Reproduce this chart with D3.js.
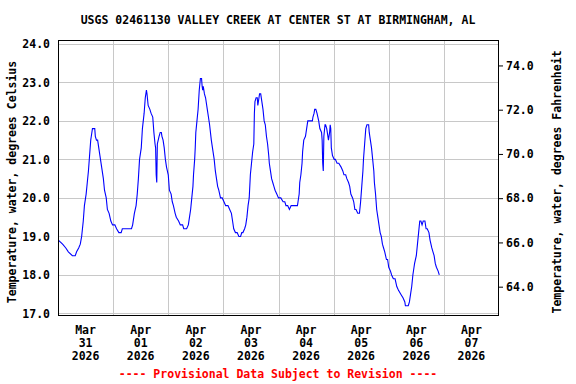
<!DOCTYPE html>
<html>
<head>
<meta charset="utf-8">
<script src="https://cdn.jsdelivr.net/npm/d3@7"></script>
<style>
  body { margin: 0; background: #fff; }
  text { font-family: "DejaVu Sans Mono", monospace; font-weight: bold; }
</style>
</head>
<body>
<div id="container"></div>
<script>

    // hours after 2026-03-31 00:00 and water temperature (deg C)
    const hours = [0.25, 2, 3.4, 4.5, 6.25, 7.5, 8.1, 9, 9.7, 10.3, 11, 11.5, 12.25, 12.75, 13.25, 13.75, 14.25, 14.5, 15, 15.5,
        16, 16.25, 16.75, 17.25, 17.75, 18.25, 19, 19.75, 20.25, 21, 21.5, 22.25, 23, 23.75, 24.75, 25.5, 26.5, 27.5, 28, 32,
        32.5, 33.25, 34, 34.5, 35, 35.5, 36.25, 36.75, 37.5, 38, 38.5, 38.75, 39.25, 40, 40.5, 41.25, 41.75, 42.25, 42.5, 42.75,
        43, 43.25, 44, 44.5, 45, 45.25, 45.75, 46.25, 46.75, 47.25, 48, 48.5, 49.25, 49.75, 50.25, 51, 51.5, 52.5, 53.25, 54.25,
        54.75, 56, 56.75, 57.25, 57.75, 58.25, 58.75, 59, 59.5, 59.75, 60, 60.5, 61, 61.5, 62, 62.5, 62.75, 63, 63.25, 63.75,
        64.25, 65, 65.5, 66, 66.75, 67.25, 68, 68.5, 69, 69.5, 70, 70.75, 71.5, 72.25, 73, 74, 74.75, 75.5, 76, 76.5,
        77.25, 78, 78.75, 79.5, 80, 80.5, 81.25, 81.75, 82.25, 82.75, 83.25, 83.75, 84.25, 84.75, 85.25, 85.5, 85.75, 86.25, 86.75, 87,
        87.5, 87.75, 88.25, 88.75, 89.25, 89.75, 90.25, 90.75, 91.25, 91.75, 92, 92.5, 93, 93.5, 94, 94.5, 95.25, 96, 97, 98,
        98.75, 99.25, 100, 100.75, 101.5, 102.25, 104.25, 104.5, 105, 105.25, 105.75, 106.25, 106.5, 107, 107.75, 108.25, 108.75, 109.75, 110.75, 111,
        111.5, 111.75, 112.25, 112.75, 113.5, 114, 114.75, 115, 115.25, 115.5, 115.75, 116.25, 116.5, 117, 117.25, 117.75, 118.25, 118.5, 118.75, 119,
        119.5, 120.25, 120.75, 121.5, 122.25, 123.25, 124, 124.5, 125.25, 125.75, 126.5, 127, 127.5, 128.25, 128.75, 129.25, 129.75, 130.5, 131.25, 131.75,
        132.25, 132.75, 133, 133.5, 134, 134.5, 134.75, 135.25, 135.5, 136, 136.5, 137, 137.5, 137.75, 138.25, 138.75, 139.25, 139.75, 140.25, 140.75,
        141.25, 141.75, 142.25, 143, 143.5, 144, 144.75, 145.25, 146, 146.75, 147.5, 148.25, 149.25, 150.25, 151, 151.25, 152.5, 153, 153.5, 154,
        154.5, 155, 155.25, 156, 156.5, 157, 157.5, 158, 158.5, 159, 159.75, 160.25, 160.75, 161.5, 162, 162.75, 163.25, 163.75, 164.25, 164.75,
        165.5, 166];
    const tempC = [18.9, 18.8, 18.7, 18.6, 18.5, 18.5, 18.6, 18.7, 18.8, 19.0, 19.4, 19.8, 20.1, 20.4, 20.7, 21.1, 21.5, 21.6, 21.8, 21.8,
        21.8, 21.6, 21.5, 21.5, 21.3, 21.1, 20.8, 20.5, 20.2, 20.0, 19.7, 19.6, 19.4, 19.3, 19.3, 19.2, 19.1, 19.1, 19.2, 19.2,
        19.3, 19.6, 19.8, 20.1, 20.5, 21.0, 21.3, 21.8, 22.2, 22.6, 22.8, 22.7, 22.4, 22.3, 22.2, 22.1, 21.7, 21.4, 21.3, 20.6,
        20.4, 21.4, 21.6, 21.7, 21.7, 21.6, 21.5, 21.3, 21.0, 20.8, 20.6, 20.2, 20.1, 19.9, 19.8, 19.6, 19.5, 19.4, 19.3, 19.3,
        19.2, 19.2, 19.3, 19.5, 19.7, 20.0, 20.3, 20.6, 21.0, 21.3, 21.7, 22.0, 22.3, 22.8, 23.1, 23.1, 22.9, 22.8, 22.9, 22.7,
        22.6, 22.3, 22.1, 21.9, 21.5, 21.3, 21.0, 20.7, 20.5, 20.3, 20.2, 20.0, 20.0, 19.9, 19.8, 19.8, 19.7, 19.6, 19.4, 19.2,
        19.1, 19.1, 19.0, 19.0, 19.1, 19.1, 19.2, 19.3, 19.5, 19.8, 20.0, 20.6, 20.9, 21.2, 21.4, 22.2, 22.5, 22.6, 22.6, 22.4,
        22.6, 22.7, 22.7, 22.5, 22.3, 22.0, 21.9, 21.6, 21.4, 21.1, 20.9, 20.7, 20.5, 20.4, 20.3, 20.2, 20.1, 20.0, 20.0, 19.9,
        19.9, 19.8, 19.8, 19.7, 19.8, 19.8, 19.8, 19.9, 20.1, 20.4, 20.6, 20.9, 21.2, 21.5, 21.6, 21.8, 22.0, 22.0, 22.0, 22.1,
        22.2, 22.3, 22.3, 22.2, 22.0, 21.8, 21.7, 21.5, 20.9, 20.7, 21.6, 21.9, 21.9, 21.8, 21.7, 21.5, 21.7, 21.9, 21.8, 21.3,
        21.1, 21.0, 21.0, 20.9, 20.9, 20.8, 20.7, 20.6, 20.6, 20.5, 20.4, 20.3, 20.1, 20.0, 19.9, 19.7, 19.7, 19.6, 19.6, 19.9,
        20.3, 20.7, 21.0, 21.4, 21.8, 21.9, 21.9, 21.9, 21.7, 21.5, 21.3, 21.0, 20.7, 20.4, 20.1, 19.7, 19.5, 19.3, 19.1, 19.0,
        18.8, 18.7, 18.6, 18.4, 18.4, 18.2, 18.1, 18.0, 17.9, 17.9, 17.7, 17.6, 17.5, 17.4, 17.3, 17.2, 17.2, 17.3, 17.5, 17.7,
        18.0, 18.2, 18.3, 18.5, 18.8, 19.1, 19.4, 19.4, 19.3, 19.4, 19.4, 19.2, 19.2, 19.1, 18.9, 18.7, 18.6, 18.5, 18.3, 18.2,
        18.1, 18.0];

    const celsiusTicks = [17, 18, 19, 20, 21, 22, 23, 24];
    const fahrenheitTicks = [64, 66, 68, 70, 72, 74];
    const tickMonths = ["Mar", "Apr", "Apr", "Apr", "Apr", "Apr", "Apr", "Apr"];
    const tickDays = ["31", "01", "02", "03", "04", "05", "06", "07"];
    const tickYears = ["2026", "2026", "2026", "2026", "2026", "2026", "2026", "2026"];

    const width = 576;
    const height = 384;
    const marginLeft = 58;
    const marginRight = 77;
    const marginTop = 40;
    const marginBottom = 69;

    const start = new Date(Date.UTC(2026, 2, 31));
    const end = new Date(Date.UTC(2026, 3, 8));
    const hourMs = 3600 * 1000;

    const x = d3.scaleUtc()
        .domain([start, end])
        .range([marginLeft, width - marginRight]);

    const y = d3.scaleLinear()
        .domain([16.96, 24.1])
        .range([height - marginBottom, marginTop]);

    // right axis, as drawn on the original plot
    const yF = d3.scaleLinear()
        .domain([62.72, 75.15])
        .range([height - marginBottom, marginTop]);

    const svg = d3.create("svg")
        .attr("width", width)
        .attr("height", height);

    // grid
    const midnights = d3.utcDay.range(d3.utcDay.offset(start, 1), end);
    svg.append("g")
        .selectAll("line")
        .data(midnights)
        .join("line")
        .attr("x1", d => Math.round(x(d)) + 0.5)
        .attr("x2", d => Math.round(x(d)) + 0.5)
        .attr("y1", marginTop)
        .attr("y2", height - marginBottom)
        .attr("stroke", "#c8c8c8");

    svg.append("g")
        .selectAll("line")
        .data(celsiusTicks)
        .join("line")
        .attr("x1", marginLeft)
        .attr("x2", width - marginRight)
        .attr("y1", d => Math.round(y(d)) + 0.5)
        .attr("y2", d => Math.round(y(d)) + 0.5)
        .attr("stroke", "#c8c8c8");

    // data line
    const data = hours.map((h, i) => ({date: new Date(start.getTime() + h * hourMs), value: tempC[i]}));
    const line = d3.line()
        .x(d => x(d.date))
        .y(d => y(d.value));

    svg.append("path")
        .datum(data)
        .attr("d", line)
        .attr("fill", "none")
        .attr("stroke", "#0000ff")
        .attr("stroke-width", 1.1);

    // frame
    svg.append("rect")
        .attr("x", marginLeft + 0.5)
        .attr("y", marginTop + 0.5)
        .attr("width", width - marginLeft - marginRight - 1)
        .attr("height", height - marginTop - marginBottom)
        .attr("fill", "none")
        .attr("stroke", "black");

    // left axis
    const leftAxis = svg.append("g")
        .attr("transform", `translate(${marginLeft},0)`)
        .call(d3.axisLeft(y).tickValues(celsiusTicks).tickFormat(d3.format(".1f")).tickSize(0).tickPadding(8));
    leftAxis.select(".domain").remove();
    leftAxis.selectAll("text")
        .attr("font-size", 11.5)
        .attr("font-family", "DejaVu Sans Mono")
        .attr("font-weight", "bold")
        .attr("fill", "black");

    // right axis
    const rightAxis = svg.append("g")
        .attr("transform", `translate(${width - marginRight},0)`)
        .call(d3.axisRight(yF).tickValues(fahrenheitTicks).tickFormat(d3.format(".1f")).tickSize(4).tickPadding(3));
    rightAxis.select(".domain").remove();
    rightAxis.selectAll("text")
        .attr("font-size", 11.5)
        .attr("font-family", "DejaVu Sans Mono")
        .attr("font-weight", "bold")
        .attr("fill", "black");

    // date labels at noon of each day
    const noons = d3.utcDay.range(start, end).map(d => new Date(d.getTime() + 12 * hourMs));
    const dateLabels = svg.append("g")
        .selectAll("text")
        .data(noons)
        .join("text")
        .attr("x", d => x(d))
        .attr("text-anchor", "middle")
        .attr("font-size", 11.5);
    dateLabels.append("tspan").attr("x", d => x(d)).attr("y", 334).text((d, i) => tickMonths[i]);
    dateLabels.append("tspan").attr("x", d => x(d)).attr("y", 347).text((d, i) => tickDays[i]);
    dateLabels.append("tspan").attr("x", d => x(d)).attr("y", 360).text((d, i) => tickYears[i]);

    // title
    svg.append("text")
        .attr("x", 278)
        .attr("y", 24)
        .attr("text-anchor", "middle")
        .attr("font-size", 11.5)
        .text("USGS 02461130 VALLEY CREEK AT CENTER ST AT BIRMINGHAM, AL");

    // axis titles
    svg.append("text")
        .attr("transform", "translate(16,182) rotate(-90)")
        .attr("text-anchor", "middle")
        .attr("font-size", 11.5)
        .text("Temperature, water, degrees Celsius");

    svg.append("text")
        .attr("transform", "translate(561,182) rotate(-90)")
        .attr("text-anchor", "middle")
        .attr("font-size", 11.5)
        .text("Temperature, water, degrees Fahrenheit");

    // footer
    svg.append("text")
        .attr("x", 278)
        .attr("y", 378)
        .attr("text-anchor", "middle")
        .attr("font-size", 11.5)
        .attr("fill", "#ff0000")
        .text("---- Provisional Data Subject to Revision ----");

    container.append(svg.node());

</script>
</body>
</html>
